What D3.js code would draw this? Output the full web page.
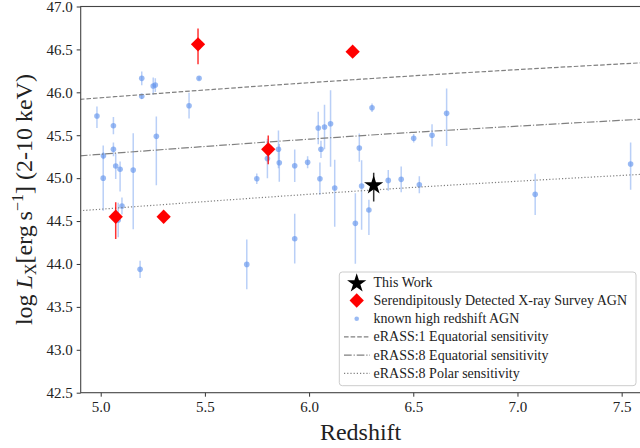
<!DOCTYPE html>
<html><head><meta charset="utf-8">
<script src="https://cdn.jsdelivr.net/npm/d3@7"></script>
<style>body{margin:0;background:#fff}svg{display:block}text{font-family:"Liberation Serif","Times New Roman",serif}</style>
</head><body>
<svg id="c" width="640" height="448"></svg>
<script>
// Known high-redshift AGN
const knownZ = [4.982,5.013,5.012,5.061,5.061,5.072,5.093,5.156,5.102,5.084,5.189,5.197,5.197,5.252,5.262,5.267,5.424,5.472,5.749,5.701,5.800,5.853,5.857,5.931,5.993,5.931,6.044,6.074,6.103,6.057,6.052,6.123,6.241,6.302,6.252,6.222,6.287,6.380,6.442,6.502,6.529,6.590,6.660,7.085,7.543];
const knownL = [45.724,45.261,45.00,45.611,45.336,45.141,45.103,45.094,44.675,44.512,43.937,46.163,45.953,46.073,46.085,45.487,45.844,46.163,44.993,43.995,45.228,45.336,45.179,45.145,45.184,44.294,45.584,45.596,45.634,45.336,44.993,44.885,45.351,45.821,44.908,44.473,44.628,44.974,44.986,45.464,44.923,45.499,45.755,44.811,45.164];
const knownErrLo = [0.14,0.04,0.38,0.10,0.08,0.15,0.26,0.69,0.10,0.20,0.10,0.08,0.03,0.10,0.08,0.57,0.15,0.02,0.06,0.29,0.23,0.22,0.22,0.19,0.07,0.29,0.19,0.26,0.50,0.10,0.19,0.45,0.16,0.05,0.51,0.47,0.29,0.12,0.15,0.05,0.10,0.13,0.38,0.24,0.30];
const knownErrHi = [0.11,0.04,0.38,0.10,0.08,0.15,0.09,0.43,0.10,0.20,0.10,0.08,0.03,0.10,0.08,0.23,0.15,0.02,0.06,0.29,0.23,0.22,0.22,0.19,0.07,0.29,0.19,0.26,0.39,0.10,0.19,0.33,0.17,0.05,0.30,0.35,0.12,0.12,0.15,0.05,0.10,0.13,0.29,0.24,0.25];
// Serendipitously detected X-ray survey AGN
const serZ = [5.072,5.302,5.467,5.804,6.209];
const serL = [44.55,44.55,46.559,45.336,46.473];
const serErrLo = [0.26,0,0.233,0.174,0];
const serErrHi = [0.168,0,0.186,0.16,0];
// This work
const thisZ = [6.31];
const thisL = [44.928];
const thisErrLo = [0.20];
const thisErrHi = [0.135];
// Sensitivity curves
const sensZ = [4.9,5.5,6.0,6.5,7.0,7.6];
const eRASS1Eq = [45.918,46.027,46.112,46.192,46.264,46.345];
const eRASS8Eq = [45.260,45.369,45.454,45.534,45.606,45.687];
const eRASS8Pol = [44.620,44.727,44.812,44.892,44.964,45.045];
const xTicks = [5.0,5.5,6.0,6.5,7.0,7.5];
const yTicks = [42.5,43.0,43.5,44.0,44.5,45.0,45.5,46.0,46.5,47.0];

const svg = d3.select('#c');
const L = 80.7, T = 6.5, B = 392.7, R = 642.5;
const x = d3.scaleLinear().domain([4.904,7.6]).range([L,R]);
const y = d3.scaleLinear().domain([42.5,47.0]).range([B,T]);

svg.append('defs').append('clipPath').attr('id','clip')
  .append('rect').attr('x',L).attr('y',T).attr('width',R-L).attr('height',B-T);
const g = svg.append('g').attr('clip-path','url(#clip)');

const known = knownZ.map((z,i)=>({z,l:knownL[i],lo:knownErrLo[i],hi:knownErrHi[i]}));
const ser = serZ.map((z,i)=>({z,l:serL[i],lo:serErrLo[i],hi:serErrHi[i]}));
const tw = thisZ.map((z,i)=>({z,l:thisL[i],lo:thisErrLo[i],hi:thisErrHi[i]}));

const blue = '#6495ED';
// known AGN
g.selectAll('line.kerr').data(known).join('line')
  .attr('x1',d=>x(d.z)).attr('x2',d=>x(d.z))
  .attr('y1',d=>y(d.l-d.lo)).attr('y2',d=>y(d.l+d.hi))
  .attr('stroke',blue).attr('stroke-opacity',0.45).attr('stroke-width',1.5);
g.selectAll('circle.k').data(known).join('circle')
  .attr('cx',d=>x(d.z)).attr('cy',d=>y(d.l)).attr('r',2.8)
  .attr('fill',blue).attr('fill-opacity',0.65);

// sensitivity lines
const line = d3.line().x((d,i)=>x(sensZ[i])).y(d=>y(d)).curve(d3.curveMonotoneX);
const styles = [
  {data:eRASS1Eq, dash:'4.6,2'},
  {data:eRASS8Eq, dash:'7.7,1.9,1.2,1.9'},
  {data:eRASS8Pol, dash:'1.2,2'}
];
styles.forEach(s=>{
  g.append('path').attr('d',line(s.data)).attr('fill','none')
   .attr('stroke','#808080').attr('stroke-width',1.2).attr('stroke-dasharray',s.dash);
});

// serendipitous
g.selectAll('line.serr').data(ser.filter(d=>d.lo>0||d.hi>0)).join('line')
  .attr('x1',d=>x(d.z)).attr('x2',d=>x(d.z))
  .attr('y1',d=>y(d.l-d.lo)).attr('y2',d=>y(d.l+d.hi))
  .attr('stroke','red').attr('stroke-opacity',0.8).attr('stroke-width',1.5);
const diamond = d3.symbol(d3.symbolSquare, 102);
g.selectAll('path.s').data(ser).join('path')
  .attr('d',diamond()).attr('transform',d=>`translate(${x(d.z)},${y(d.l)}) rotate(45)`)
  .attr('fill','red');

// this work
g.selectAll('line.terr').data(tw).join('line')
  .attr('x1',d=>x(d.z)).attr('x2',d=>x(d.z))
  .attr('y1',d=>y(d.l-d.lo)).attr('y2',d=>y(d.l+d.hi))
  .attr('stroke','#333').attr('stroke-width',1.5);
const star = d3.symbol(d3.symbolStar, 115);
g.selectAll('path.t').data(tw).join('path')
  .attr('d',star()).attr('transform',d=>`translate(${x(d.z)},${y(d.l)+1})`)
  .attr('fill','black');

// axes
const ax = svg.append('g').attr('transform',`translate(0,${B})`)
  .call(d3.axisBottom(x).tickValues(xTicks).tickFormat(d3.format('.1f')).tickSize(4).tickPadding(5));
const ay = svg.append('g').attr('transform',`translate(${L},0)`)
  .call(d3.axisLeft(y).tickValues(yTicks).tickFormat(d3.format('.1f')).tickSize(4).tickPadding(4));
[ax,ay].forEach(a=>{
  a.select('.domain').remove();
  a.selectAll('line').attr('stroke','#333');
  a.selectAll('text').attr('font-size',15).attr('fill','#222').style('font-family','"Liberation Serif",serif');
});
// frame
svg.append('rect').attr('x',L).attr('y',T).attr('width',R-L).attr('height',B-T)
  .attr('fill','none').attr('stroke','#444').attr('stroke-width',1.1);

// axis labels
svg.append('text').attr('x',(L+R)/2-1).attr('y',440).attr('text-anchor','middle')
  .attr('font-size',24).attr('fill','#222').text('Redshift');
const yl = svg.append('text').attr('transform',`translate(32,${(T+B)/2}) rotate(-90)`)
  .attr('text-anchor','middle').attr('font-size',24).attr('fill','#222');
yl.append('tspan').text('log ');
yl.append('tspan').attr('font-style','italic').text('L');
yl.append('tspan').attr('font-size',16).attr('dy',4).text('X');
yl.append('tspan').attr('dy',-4).text('[erg\u2009s');
yl.append('tspan').attr('font-size',16).attr('dy',-9).text('\u22121');
yl.append('tspan').attr('dy',9).text('] (2-10 keV)');

// legend
const lg = svg.append('g');
lg.append('rect').attr('x',339.3).attr('y',272).attr('width',296.7).attr('height',113.7)
  .attr('rx',3).attr('fill','white').attr('fill-opacity',0.85).attr('stroke','#ccc').attr('stroke-width',1);
const items = [
  {t:'This Work', k:'star'},
  {t:'Serendipitously Detected X-ray Survey AGN', k:'diamond'},
  {t:'known high redshift AGN', k:'dot'},
  {t:'eRASS:1 Equatorial sensitivity', k:'l', dash:styles[0].dash},
  {t:'eRASS:8 Equatorial sensitivity', k:'l', dash:styles[1].dash},
  {t:'eRASS:8 Polar sensitivity', k:'l', dash:styles[2].dash}
];
items.forEach((it,i)=>{
  const cy = 282.3 + i*18.2;
  if(it.k==='star') lg.append('path').attr('d',star()).attr('transform',`translate(356.7,${cy+1})`).attr('fill','black');
  else if(it.k==='diamond') lg.append('path').attr('d',diamond()).attr('transform',`translate(356.7,${cy}) rotate(45)`).attr('fill','red');
  else if(it.k==='dot') lg.append('circle').attr('cx',356.7).attr('cy',cy).attr('r',2.3).attr('fill',blue).attr('fill-opacity',0.65);
  else lg.append('line').attr('x1',344).attr('x2',370).attr('y1',cy).attr('y2',cy)
    .attr('stroke','#808080').attr('stroke-width',1.2).attr('stroke-dasharray',it.dash);
  lg.append('text').attr('x',373.5).attr('y',cy+4.5).attr('font-size',14).attr('fill','#222').text(it.t);
});
</script>
</body></html>
